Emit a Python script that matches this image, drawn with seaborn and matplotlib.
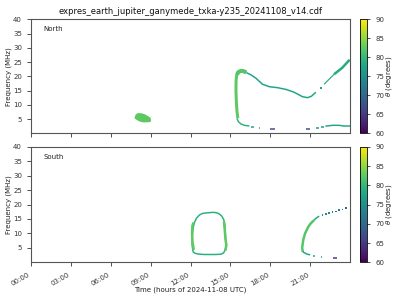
import matplotlib
matplotlib.use("Agg")
import matplotlib.pyplot as plt
import seaborn as sns
import pandas as pd
from matplotlib.colors import Normalize
from matplotlib.cm import ScalarMappable

TITLE = "expres_earth_jupiter_ganymede_txka-y235_20241108_v14.cdf"
XLABEL = "Time (hours of 2024-11-08 UTC)"
YLABEL = "Frequency (MHz)"
CBAR_LABEL = r"$\theta$ (degrees)"
panel_names = ["North", "South"]
x_tick_hours = [0, 3, 6, 9, 12, 15, 18, 21]
x_tick_labels = ["00:00", "03:00", "06:00", "09:00", "12:00", "15:00", "18:00", "21:00"]
y_ticks = [5, 10, 15, 20, 25, 30, 35, 40]
theta_ticks = [60, 65, 70, 75, 80, 85, 90]
theta_range = (60, 90)

# ---------------- North hemisphere ----------------
north_blob_t = [7.8, 7.88, 8.03, 8.33, 8.55, 8.85, 9.0, 9.04, 8.93, 8.48, 8.18, 7.95, 7.8]
north_blob_f = [5.7, 6.6, 7.1, 7.0, 6.7, 5.9, 5.4, 4.3, 3.9, 3.8, 4.1, 4.7, 5.2]
north_blob_theta = 82.5

north_stem_t = [15.56, 15.5, 15.45, 15.42, 15.43, 15.48, 15.6]
north_stem_f = [5.3, 7.5, 11.0, 15.0, 18.5, 20.6, 21.5]
north_stem_theta = 82.5

north_hook_t = [15.5, 15.6, 15.8, 16.0, 16.2]
north_hook_f = [20.6, 21.5, 21.9, 21.8, 21.3]
north_hook_theta = 82.0

north_arc_t = [16.2, 16.55, 16.93, 17.42, 17.93, 18.55, 19.18, 19.8, 20.42, 20.8, 21.1, 21.43]
north_arc_f = [21.3, 20.5, 19.3, 17.2, 16.35, 16.0, 15.4, 14.4, 12.85, 12.5, 13.0, 14.4]
north_arc_theta = 77.5

north_dot_t = [21.85]
north_dot_f = [15.8]
north_dot_theta = [77.5]

north_rise_thin_t = [22.05, 22.8]
north_rise_thin_f = [17.2, 20.7]
north_rise_thick_t = [22.8, 23.42, 23.97]
north_rise_thick_f = [20.7, 23.0, 25.8]
north_rise_theta = 78.5

north_low_t = [15.5, 15.6, 15.8, 16.05, 16.43]
north_low_f = [5.26, 4.07, 3.26, 2.8, 2.56]
north_low_theta = 79.5

north_dash_t0 = [16.55, 17.12, 17.98, 20.68, 21.43, 21.8]
north_dash_t1 = [16.8, 17.23, 18.38, 20.98, 21.68, 22.05]
north_dash_f = [2.2, 1.75, 1.4, 1.4, 1.75, 2.1]
north_dash_theta = [77, 77, 67, 67, 76, 76]

north_tail_t = [22.15, 22.68, 23.18, 23.5, 24.0]
north_tail_f = [2.5, 2.8, 2.8, 2.56, 2.56]
north_tail_theta = 78

# ---------------- South hemisphere ----------------
south_loop_t = [12.17, 12.12, 12.13, 12.2, 12.3, 12.45, 12.68, 12.9, 13.18, 13.45, 13.75, 14.0,
                14.18, 14.35, 14.5, 14.58, 14.62, 14.65, 14.7, 14.62, 14.5, 14.3, 13.9, 13.4,
                13.05, 12.6, 12.35, 12.2, 12.17]
south_loop_f = [4.3, 6.0, 9.0, 12.0, 13.8, 15.3, 16.4, 16.9, 17.1, 17.2, 17.3, 17.1,
                16.7, 16.0, 14.8, 13.0, 10.0, 7.5, 6.0, 4.5, 3.3, 2.8, 2.7, 2.7,
                2.7, 2.85, 3.1, 3.6, 4.3]
south_loop_theta = 79

south_loop_left_t = [12.25, 12.15, 12.12, 12.14, 12.22]
south_loop_left_f = [4.3, 7.0, 10.0, 12.5, 13.8]
south_loop_right_t = [14.52, 14.58, 14.63, 14.7, 14.62]
south_loop_right_f = [14.0, 11.0, 8.0, 6.0, 4.0]
south_loop_side_theta = 82.5

south_stem_t = [20.45, 20.4, 20.48, 20.62, 20.85, 21.05, 21.3]
south_stem_f = [3.6, 5.0, 7.7, 10.0, 12.2, 13.5, 14.6]
south_stem_theta = 82

south_arc_t = [21.3, 21.43, 21.68]
south_arc_f = [14.6, 15.2, 16.0]
south_arc_theta = 78

south_dots_t = [21.93, 22.18, 22.43, 22.68, 22.93, 23.18, 23.43, 23.68]
south_dots_f = [16.4, 16.7, 17.1, 17.3, 17.6, 18.0, 18.3, 18.7]
south_dots_theta = [76, 75, 74, 73, 72, 72, 71, 71]

south_low_t = [20.45, 20.5, 20.8, 21.0]
south_low_f = [3.8, 3.46, 2.77, 2.6]
south_low_theta = 78

south_dash_t0 = [21.25, 21.8, 22.75]
south_dash_t1 = [21.4, 21.92, 23.0]
south_dash_f = [2.3, 1.95, 1.5]
south_dash_theta = [77, 76, 65]

# ---------------- drawing ----------------
plt.rcParams["font.family"] = ["DejaVu Sans"]
cmap = plt.get_cmap("viridis")
norm = Normalize(*theta_range)
PX = 0.72  # points per pixel at 100 dpi

fig = plt.figure(figsize=(4, 3), dpi=100)
ax_n = fig.add_axes([0.0775, 0.5557, 0.7975, 0.38])
ax_s = fig.add_axes([0.0775, 0.1257, 0.7975, 0.385])
cax_n = fig.add_axes([0.9, 0.5557, 0.0167, 0.38])
cax_s = fig.add_axes([0.9, 0.1257, 0.0167, 0.385])


def line(ax, t, f, theta, width_px):
    df = pd.DataFrame({"t": t, "f": f})
    sns.lineplot(data=df, x="t", y="f", sort=False, estimator=None, ax=ax,
                 color=cmap(norm(theta)), lw=width_px * PX, solid_capstyle="butt")


def dots(ax, t, f, theta):
    df = pd.DataFrame({"t": t, "f": f, "theta": theta})
    sns.scatterplot(data=df, x="t", y="f", hue="theta", palette="viridis",
                    hue_norm=theta_range, marker="s", s=1.6, linewidth=0,
                    legend=False, ax=ax)


def dashes(ax, t0, t1, f, theta, width_px=1.5):
    for a, b, y, th in zip(t0, t1, f, theta):
        line(ax, [a, b], [y, y], th, width_px)


# North
ax_n.fill(north_blob_t, north_blob_f, color=cmap(norm(north_blob_theta)), lw=0)
line(ax_n, north_stem_t, north_stem_f, north_stem_theta, 3)
line(ax_n, north_hook_t, north_hook_f, north_hook_theta, 4)
line(ax_n, north_arc_t, north_arc_f, north_arc_theta, 1.5)
dots(ax_n, north_dot_t, north_dot_f, north_dot_theta)
line(ax_n, north_rise_thin_t, north_rise_thin_f, north_rise_theta, 1.2)
line(ax_n, north_rise_thick_t, north_rise_thick_f, north_rise_theta, 2.5)
line(ax_n, north_low_t, north_low_f, north_low_theta, 1.5)
dashes(ax_n, north_dash_t0, north_dash_t1, north_dash_f, north_dash_theta)
line(ax_n, north_tail_t, north_tail_f, north_tail_theta, 1.5)

# South
line(ax_s, south_loop_t, south_loop_f, south_loop_theta, 1.5)
line(ax_s, south_loop_left_t, south_loop_left_f, south_loop_side_theta, 2.5)
line(ax_s, south_loop_right_t, south_loop_right_f, south_loop_side_theta, 2.5)
line(ax_s, south_stem_t, south_stem_f, south_stem_theta, 2.5)
line(ax_s, south_arc_t, south_arc_f, south_arc_theta, 1.5)
dots(ax_s, south_dots_t, south_dots_f, south_dots_theta)
line(ax_s, south_low_t, south_low_f, south_low_theta, 1.5)
dashes(ax_s, south_dash_t0, south_dash_t1, south_dash_f, south_dash_theta)

FS = 5
for ax, name in zip([ax_n, ax_s], panel_names):
    ax.set_xlim(0, 24)
    ax.set_ylim(0, 40)
    ax.set_yticks(y_ticks)
    ax.set_xticks(x_tick_hours)
    ax.tick_params(labelsize=FS, length=3, width=0.6, colors="#333333")
    for sp in ax.spines.values():
        sp.set_linewidth(0.8)
        sp.set_color("#555555")
    ax.set_ylabel(YLABEL, fontsize=FS, color="#222222", labelpad=1)
    ax.set_xlabel("")
    ax.text(0.04, 0.915, name, transform=ax.transAxes, fontsize=FS,
            va="center", ha="left", color="#222222")

ax_n.set_xticklabels([])
ax_s.set_xticklabels(x_tick_labels, rotation=30, ha="right")
ax_s.set_xlabel(XLABEL, fontsize=FS, color="#222222", labelpad=0)
ax_n.set_title(TITLE, fontsize=6, pad=4, color="#111111")

for cax in [cax_n, cax_s]:
    sm = ScalarMappable(norm=norm, cmap=cmap)
    cb = fig.colorbar(sm, cax=cax, ticks=theta_ticks)
    cb.ax.tick_params(labelsize=FS, length=2.5, width=0.6, colors="#333333")
    cb.outline.set_linewidth(0.6)
    cb.set_label(CBAR_LABEL, fontsize=FS, color="#222222", labelpad=0)

fig.savefig("out.png", dpi=100)
